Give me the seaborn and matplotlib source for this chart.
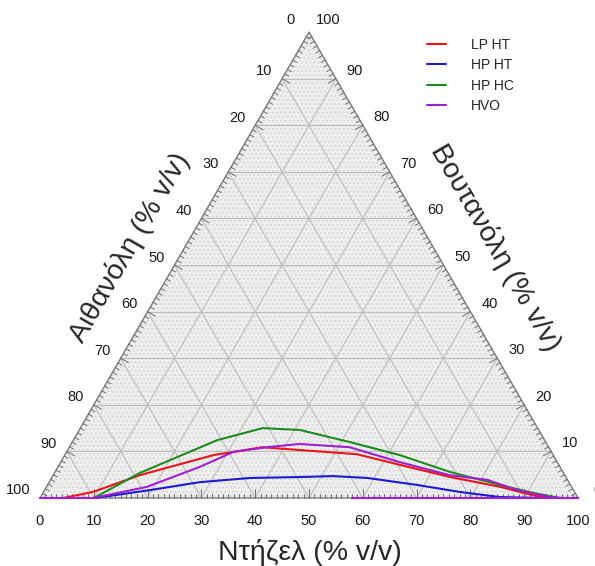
import numpy as np
import pandas as pd
import matplotlib
matplotlib.use("Agg")
import matplotlib.pyplot as plt
import seaborn as sns
from matplotlib.patches import Polygon

# ---- data (diesel %, butanol %) ----
series_names = ["LP HT", "HP HT", "HP HC", "HVO"]
series_colors = ["#e8151b", "#1c1ccf", "#1f8a1f", "#a020d0"]

lp_ht_diesel = [4.3, 9.2, 16.1, 27.6, 35.9, 43.1, 54.2, 63.4, 74.0, 84.3, 91.3, 95.4]
lp_ht_butanol = [0.0, 1.3, 4.9, 9.2, 10.9, 10.3, 9.4, 7.1, 4.5, 2.4, 0.6, 0.0]

hp_ht_diesel = [10.2, 19.6, 28.0, 36.9, 46.1, 52.1, 58.7, 68.7, 77.4, 85.4, 92.9]
hp_ht_butanol = [0.0, 1.7, 3.4, 4.3, 4.5, 4.7, 4.3, 2.8, 1.3, 0.2, 0.0]

hp_hc_diesel = [10.0, 15.9, 26.7, 33.9, 41.0, 51.6, 62.3, 73.4, 84.1, 91.1, 96.7]
hp_hc_butanol = [0.0, 5.4, 12.4, 15.0, 14.6, 12.0, 9.2, 5.6, 2.8, 1.1, 0.0]

hvo_diesel = [0.0, 9.9, 18.7, 26.4, 31.0, 36.7, 42.5, 52.1, 63.0, 73.7, 81.2, 87.8, 94.7, 96.7, 100.0]
hvo_butanol = [0.0, 0.0, 2.4, 6.7, 9.9, 10.9, 11.6, 10.9, 7.7, 4.9, 3.9, 1.7, 0.2, 0.0, 0.0]
hvo_base_diesel = [58.0, 100.0]
hvo_base_butanol = [0.0, 0.0]

tick_values = list(range(0, 101, 10))

# ---- helpers ----
def to_xy(d, b):
    d = np.asarray(d, float) / 100.0
    b = np.asarray(b, float) / 100.0
    return d + b / 2.0, b * np.sqrt(3) / 2.0

frames = []
for name, dd, bb in [("LP HT", lp_ht_diesel, lp_ht_butanol),
                     ("HP HT", hp_ht_diesel, hp_ht_butanol),
                     ("HP HC", hp_hc_diesel, hp_hc_butanol),
                     ("HVO", hvo_diesel, hvo_butanol)]:
    X, Y = to_xy(dd, bb)
    frames.append(pd.DataFrame({"X": X, "Y": Y, "series": name, "order": range(len(X))}))
df = pd.concat(frames, ignore_index=True)

sns.set_style("white")
plt.rcParams["font.family"] = ["Liberation Sans", "DejaVu Sans"]

fig = plt.figure(figsize=(5.95, 5.66), dpi=100)
ax = fig.add_axes([0, 0, 1, 1])
S = 538.0
ax.set_xlim(-40 / S, 555 / S)
ax.set_ylim((498 - 566) / S, 498 / S)
ax.axis("off")

h = np.sqrt(3) / 2
A = (0.0, 0.0); B = (1.0, 0.0); C = (0.5, h)

# background fill with dots
ax.add_patch(Polygon([A, B, C], closed=True, facecolor="#efefef", edgecolor="none", zorder=0))
ax.add_patch(Polygon([A, B, C], closed=True, facecolor="none", edgecolor="#d9d9d9",
                     hatch="....", linewidth=0, zorder=0.5))

# grid lines
gcol = "#bdbdbd"
for v in range(10, 100, 10):
    x0, y0 = to_xy(0, v); x1, y1 = to_xy(100 - v, v)
    ax.plot([x0, x1], [y0, y1], color=gcol, lw=0.8, zorder=1)
    x0, y0 = to_xy(v, 0); x1, y1 = to_xy(v, 100 - v)
    ax.plot([x0, x1], [y0, y1], color=gcol, lw=0.8, zorder=1)
    x0, y0 = to_xy(100 - v, 0); x1, y1 = to_xy(0, 100 - v)
    ax.plot([x0, x1], [y0, y1], color=gcol, lw=0.8, zorder=1)

# edges
ecol = "#7a7a7a"
ax.plot([A[0], B[0], C[0], A[0]], [A[1], B[1], C[1], A[1]], color=ecol, lw=1.0, zorder=2)

# ticks
tcol = "#6e6e6e"
minor_len = 4.5 / S
major_len = 9 / S
n_bottom = np.array([0.0, 1.0])
n_left = np.array([np.cos(np.radians(-30)), np.sin(np.radians(-30))])
n_right = np.array([-np.cos(np.radians(-30)), np.sin(np.radians(-30))])
for v in range(1, 100):
    L = major_len if v % 10 == 0 else minor_len
    p = np.array(to_xy(v, 0))
    ax.plot([p[0], p[0] + n_bottom[0] * L], [p[1], p[1] + n_bottom[1] * L], color=tcol, lw=0.7, zorder=2)
    p = np.array(to_xy(0, v))
    ax.plot([p[0], p[0] + n_left[0] * L], [p[1], p[1] + n_left[1] * L], color=tcol, lw=0.7, zorder=2)
    p = np.array(to_xy(100 - v, v))
    ax.plot([p[0], p[0] + n_right[0] * L], [p[1], p[1] + n_right[1] * L], color=tcol, lw=0.7, zorder=2)

# tick labels
fs = 10.5
tc = "#1a1a1a"
for v in tick_values:
    x, y = to_xy(v, 0)
    ax.annotate(str(v), (x, y), xytext=(0, -16.6), textcoords="offset points",
                ha="center", va="center", fontsize=fs, color=tc)
    x, y = to_xy(0, 100 - v)
    off = (-15.5, 5.8) if v == 100 else (-13.0, 5.4)
    if v == 0:
        off = (-13.0, 8.5)
    ax.annotate(str(v), (x, y), xytext=off, textcoords="offset points",
                ha="center", va="center", fontsize=fs, color=tc)
    x, y = to_xy(100 - v, v)
    off = (13.7, 5.8)
    if v == 100:
        off = (13.7, 8.5)
    ax.annotate(str(v), (x, y), xytext=off, textcoords="offset points",
                ha="center", va="center", fontsize=fs, color=tc)

# axis titles
tfs = 20.5
ax.text((310 - 40) / S, (498 - 553) / S, "Ντήζελ (% v/v)", ha="center", va="center", fontsize=tfs)
ax.text((130 - 40) / S, (498 - 248) / S, "Αιθανόλη (% v/v)", ha="center", va="center",
        fontsize=tfs, rotation=60, rotation_mode="anchor")
ax.text((495 - 40) / S, (498 - 248) / S, "Βουτανόλη (% v/v)", ha="center", va="center",
        fontsize=tfs, rotation=-60, rotation_mode="anchor")

# curves
palette = dict(zip(series_names, series_colors))
sns.lineplot(data=df, x="X", y="Y", hue="series", hue_order=series_names, palette=palette,
             units="series", estimator=None, sort=False, lw=1.5, ax=ax, zorder=3)
bx, by = to_xy(hvo_base_diesel, hvo_base_butanol)
sns.lineplot(x=bx, y=by, color=palette["HVO"], lw=1.5, ax=ax, zorder=3, legend=False)

leg = ax.legend(loc="upper left", bbox_to_anchor=(427 / 595, 1 - 38 / 566),
                bbox_transform=fig.transFigure, frameon=False, fontsize=10,
                handlelength=1.4, handletextpad=1.75, labelspacing=0.45,
                borderpad=0, borderaxespad=0)
for line in leg.get_lines():
    line.set_linewidth(1.5)

fig.savefig("out.png", dpi=100)
